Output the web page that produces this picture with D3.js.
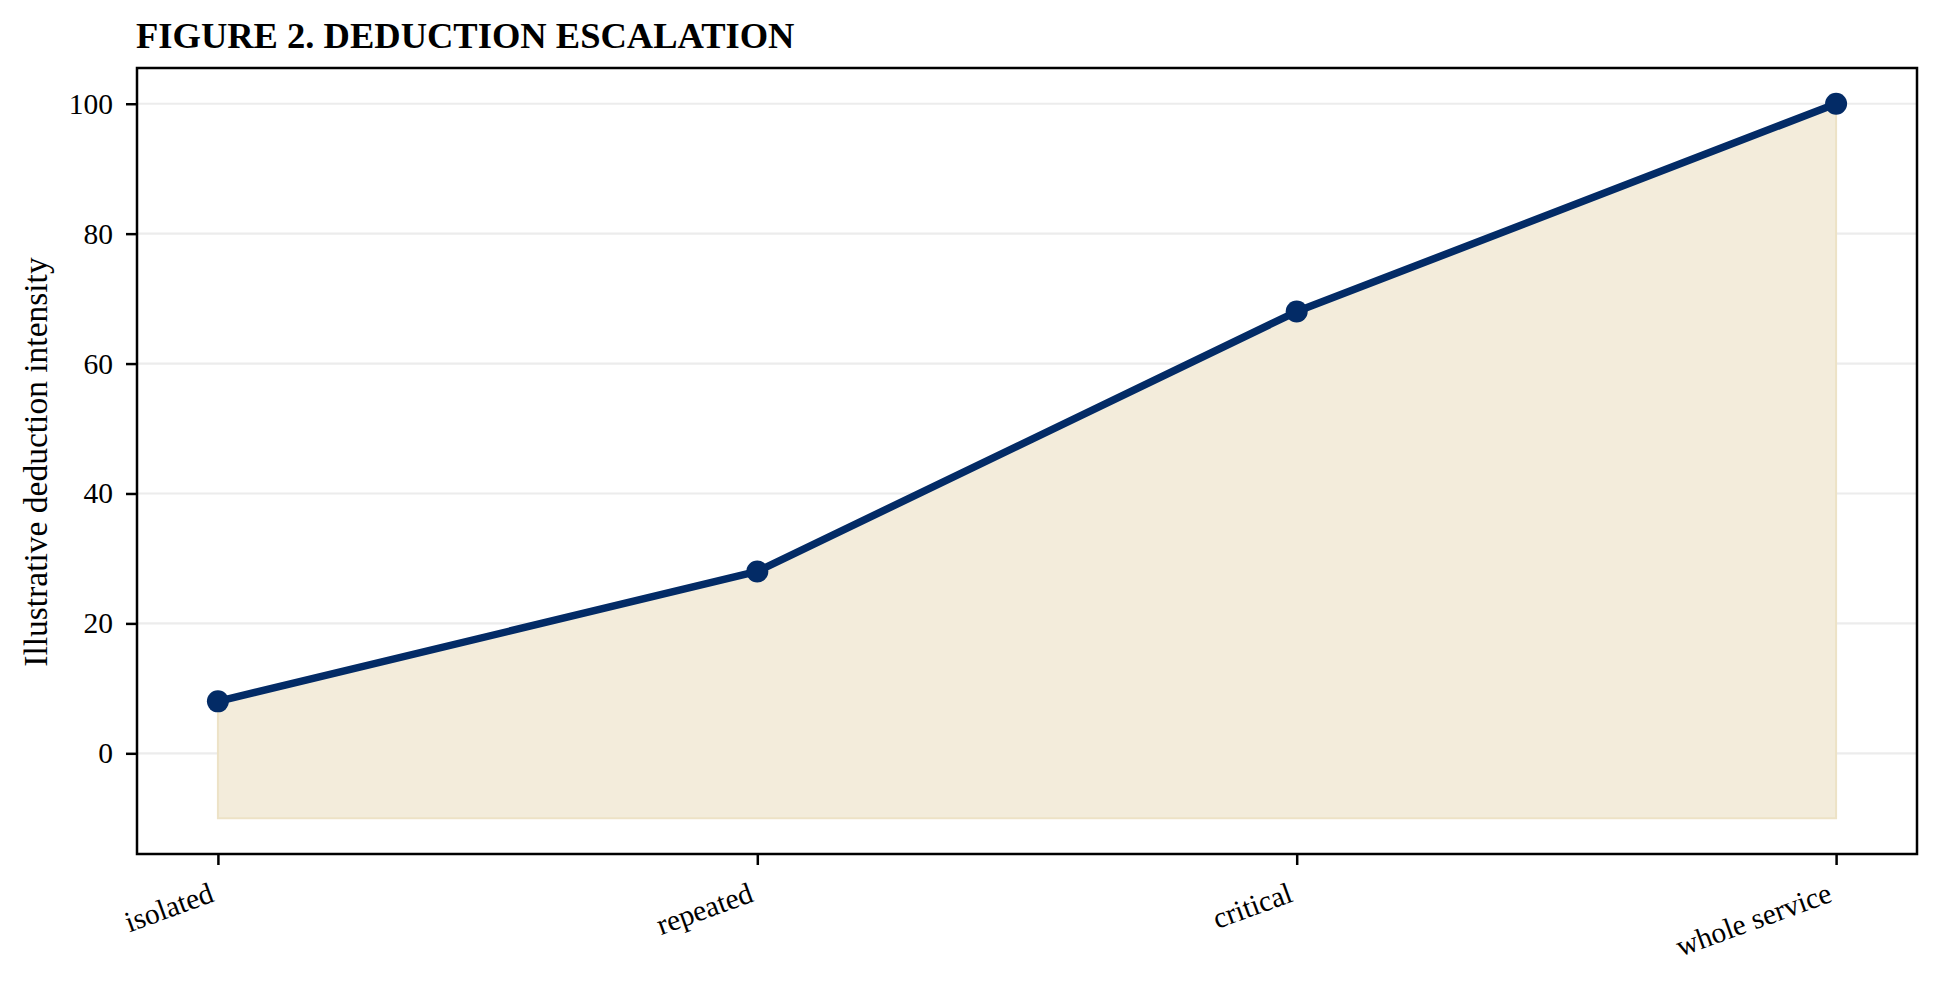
<!DOCTYPE html>
<html><head><meta charset="utf-8">
<script src="https://cdn.jsdelivr.net/npm/d3@7"></script>
<style>
html,body{margin:0;padding:0;background:#fff;}
text{font-family:"Liberation Serif","Times New Roman",serif;fill:#000;}
</style></head>
<body>
<svg id="c" width="1939" height="983"></svg>
<script>
const categories = ["isolated", "repeated", "critical", "whole service"];
const values = [8, 28, 68, 100];
const fillBase = -10;
const yTicks = [0, 20, 40, 60, 80, 100];
const title = "FIGURE 2. DEDUCTION ESCALATION";
const yLabel = "Illustrative deduction intensity";

const svg = d3.select("#c");
const L = 137, R = 1917, T = 68, B = 854;

const x = d3.scaleLinear().domain([-0.15, categories.length - 1 + 0.15]).range([L, R]);
const y = d3.scaleLinear().domain([-15.5, 105.5]).range([B, T]);

// grid
svg.append("g").selectAll("line").data(yTicks).join("line")
  .attr("x1", L).attr("x2", R)
  .attr("y1", d => y(d)).attr("y2", d => y(d))
  .attr("stroke", "#ececec").attr("stroke-width", 2.2);

// area
const area = d3.area().x((d, i) => x(i)).y0(y(fillBase)).y1(d => y(d));
svg.append("path").datum(values).attr("d", area)
  .attr("fill", "#f3ecdb").attr("stroke", "#ede2c6").attr("stroke-width", 2);

// line
const line = d3.line().x((d, i) => x(i)).y(d => y(d));
svg.append("path").datum(values).attr("d", line)
  .attr("fill", "none").attr("stroke", "#032b66").attr("stroke-width", 7.5)
  .attr("stroke-linejoin", "round");

svg.append("g").selectAll("circle").data(values).join("circle")
  .attr("cx", (d, i) => x(i)).attr("cy", d => y(d)).attr("r", 11)
  .attr("fill", "#032b66");

// axes
const yAxis = d3.axisLeft(y).tickValues(yTicks).tickSize(11).tickPadding(13);
const gy = svg.append("g").attr("transform", `translate(${L},0)`).call(yAxis);
gy.select(".domain").remove();
gy.selectAll("line").attr("stroke", "#000").attr("stroke-width", 2.5);
gy.selectAll("text").style("font-size", "29.5px").attr("font-family", "Liberation Serif");

const xAxis = d3.axisBottom(x).tickValues(d3.range(categories.length))
  .tickFormat(i => categories[i]).tickSize(11).tickPadding(8);
const gx = svg.append("g").attr("transform", `translate(0,${B})`).call(xAxis);
gx.select(".domain").remove();
gx.selectAll("line").attr("stroke", "#000").attr("stroke-width", 2.5);
gx.selectAll("text").style("font-size", "29.5px").attr("font-family", "Liberation Serif")
  .attr("text-anchor", "end").attr("dy", null).attr("y", null)
  .attr("transform", "translate(-3,47) rotate(-20)");

// frame
svg.append("rect").attr("x", L).attr("y", T).attr("width", R - L).attr("height", B - T)
  .attr("fill", "none").attr("stroke", "#000").attr("stroke-width", 2.5);

// title
svg.append("text").attr("x", L - 1).attr("y", 48).text(title)
  .style("font-size", "36.5px").style("font-weight", "bold");

// y label
svg.append("text").attr("transform", `translate(47,462) rotate(-90)`)
  .attr("text-anchor", "middle").text(yLabel).style("font-size", "33.5px");
</script>
</body></html>
